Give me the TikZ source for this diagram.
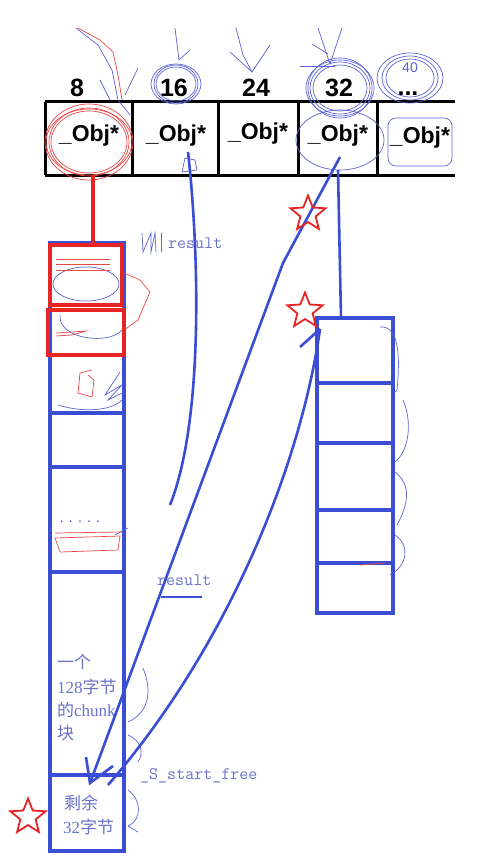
\documentclass[tikz,border=0pt]{standalone}
\usepackage{fontspec}
\usetikzlibrary{shapes.geometric}
\newfontfamily\hdr{Liberation Sans}
\newfontfamily\cjk{Noto Sans CJK SC}
\newfontfamily\lser{Liberation Serif}
\definecolor{pen}{RGB}{58,78,212}
\definecolor{ink}{RGB}{108,114,200}
\definecolor{redpen}{RGB}{232,36,36}
\definecolor{scrib}{RGB}{92,100,212}
\definecolor{redscrib}{RGB}{236,70,70}
\tikzset{
  grid/.style={line width=3pt,black},
  col/.style={line width=3.6pt,pen},
  redbox/.style={line width=3.6pt,redpen},
  link/.style={line width=2.6pt,pen},
  thinb/.style={line width=0.7pt,scrib},
  thinr/.style={line width=0.7pt,redscrib},
  hnum/.style={font=\hdr\bfseries\fontsize{25}{25}\selectfont,inner sep=0pt},
  hobj/.style={font=\hdr\bfseries\fontsize{23}{23}\selectfont,inner sep=0pt},
  lbl/.style={font=\cjk\fontsize{17}{17}\selectfont,text=ink,inner sep=0pt,anchor=west},
  code/.style={font=\ttfamily\fontsize{17.5}{17.5}\selectfont,text=ink,inner sep=0pt,anchor=west},
  redstar/.style={star,star points=5,star point ratio=2.3,draw=redpen,line width=1.8pt,minimum size=37pt,inner sep=0pt}
}
\begin{document}
\begin{tikzpicture}[x=1pt,y=-1pt]
\useasboundingbox (0,0) rectangle (477,864);
\fill[white] (0,0) rectangle (477,864);

% ---------- header table ----------
\draw[grid] (45,102) -- (455,102);
\draw[grid] (45,175) -- (455,175);
\foreach \x in {45,132,218,298,377} \draw[grid] (\x,102) -- (\x,175);

\node[hnum] (n8)  at (77,88)  {8};
\node[hnum] (n16) at (174,88) {16};
\node[hnum] (n24) at (256,88) {24};
\node[hnum] (n32) at (339,88) {32};
\node[hnum,anchor=base] (n40) at (408,96) {...};
\node[font=\hdr\fontsize{14}{14}\selectfont,text=scrib,inner sep=0pt] (h40) at (410,68) {40};

\node[hobj] (c1) at (89,136)  {\_Obj*};
\node[hobj] (c2) at (176,136) {\_Obj*};
\node[hobj] (c3) at (258,134) {\_Obj*};
\node[hobj] (c4) at (338,136) {\_Obj*};
\node[hobj] (c5) at (420,138) {\_Obj*};

% ---------- scribbles on header ----------
\foreach \r/\s in {40/34,44/38,38/31,43/33}
  \draw[thinr] (89,142) ellipse [x radius=\r pt, y radius=\s pt];
\draw[thinr] (78,28) -- (100,40) -- (113,52) -- (118,75) -- (122,100);
\draw[thinb] (76,28) -- (98,45) -- (112,70) -- (118,100) -- (130,115);
\draw[thinb] (100,80) -- (110,100); \draw[thinb] (138,68) -- (125,95);
\foreach \r/\s in {22/19,25/20,20/17}
  \draw[thinb] (176,84) ellipse [x radius=\r pt, y radius=\s pt];
\draw[thinb] (175,28) -- (179,60) -- (190,50);
\draw[thinb] (236,28) -- (243,55) -- (252,72) -- (270,45);
\draw[thinb] (230,52) -- (252,72);
\foreach \r/\s in {30/26,34/28,27/23,32/30}
  \draw[thinb] (340,88) ellipse [x radius=\r pt, y radius=\s pt];
\draw[thinb] (318,28) -- (330,64) -- (342,28);
\draw[thinb] (312,44) -- (328,54); \draw[thinb] (300,66) -- (335,66);
\draw[thinb] (340,140) ellipse [x radius=44pt, y radius=30pt];
\foreach \r/\s in {28/22,33/25,24/19}
  \draw[thinb] (410,78) ellipse [x radius=\r pt, y radius=\s pt];
\draw[thinb,rounded corners=8pt] (388,118) rectangle (452,166);
\draw[thinb] (185,158) -- (182,172) -- (197,170) -- (195,160) -- (185,158);

% ---------- left column ----------
\draw[col] (50,243) rectangle (124,851);
\foreach \y in {355,413,467} \draw[col] (50,\y) -- (124,\y);
\draw[col,line width=4.6pt] (50,572) -- (124,572);
\draw[col,line width=4.2pt] (50,775) -- (124,775);
\node[font=\hdr\fontsize{14}{14}\selectfont,text=pen,inner sep=0pt] (dots) at (80,522) {. . . . .};

% scribbles in the left column
\draw[thinb] (86,284) ellipse [x radius=33pt, y radius=17pt];
\foreach \y in {259,264,270} \draw[thinr] (56,\y) -- (110,\y);
\draw[thinr] (122,272) -- (140,280) -- (150,292) -- (138,320) -- (124,330);
\draw[thinb] (60,315) .. controls (58,340) and (110,345) .. (122,330);
\draw[thinr] (56,333) -- (86,331) -- (72,335) -- (56,336);
\draw[thinr] (92,370) -- (80,373) -- (78,393) -- (92,397) -- (94,380) -- (88,375);
\draw[thinb] (120,372) -- (105,395) -- (122,385) -- (108,400) -- (124,392);
\draw[thinb] (58,405) .. controls (80,412) and (110,412) .. (122,400);
\draw[thinr] (55,538) -- (120,536) -- (118,550) -- (60,552) -- cycle;
\draw[thinr] (55,533) -- (123,532);
\draw[thinb] (115,535) -- (128,528);

\node[lbl] (t1) at (57,662) {一个};
\node[lbl] (t2) at (57,687) {{\lser 128}字节};
\node[lbl] (t3) at (57,710) {的{\lser chunk}};
\node[lbl] (t4) at (57,733) {块};
\node[lbl] (t5) at (64,803) {剩余};
\node[lbl] (t6) at (63,827) {{\lser 32}字节};
\draw[col,line width=3.2pt] (124,660) -- (124,760);

% curly scribbles on the right of the bottom block
\draw[thinb] (143,668) .. controls (152,690) and (150,712) .. (128,722);
\draw[thinb] (128,735) .. controls (140,740) and (145,752) .. (138,762);
\draw[thinb] (128,790) .. controls (142,800) and (142,820) .. (128,826);
\draw[thinb] (128,826) -- (138,832);

% ---------- right column ----------
\draw[col] (317,318) rectangle (393,613);
\foreach \y in {383,443,510,563} \draw[col] (317,\y) -- (393,\y);
\draw[thinb] (380,327) .. controls (400,325) and (400,360) .. (397,390) -- (395,392);
\draw[thinb] (403,400) .. controls (412,420) and (410,450) .. (395,462);
\draw[thinb] (395,472) .. controls (412,485) and (408,505) .. (397,525);
\draw[thinb] (395,535) .. controls (410,545) and (408,565) .. (390,575);
\draw[thinr] (360,565) -- (385,563);

% ---------- connectors ----------
\coordinate (r0) at (93,175);
\coordinate (r1) at (93,243);
\draw[redbox] (r0) -- (r1);
\draw[redbox] (50,245) rectangle (122,305);
\draw[redbox] (48,310) rectangle (124,355);

% from 16 slot: curved line ending in the air
\coordinate (a0) at (188,152);
\coordinate (a1) at (170,505);
\draw[link] (a0) .. controls (199,250) and (204,420) .. (a1);

% from 32 slot to right column
\coordinate (b0) at (338,170);
\coordinate (b1) at (341,318);
\draw[link] (b0) -- (b1);

% from 32 slot down to _S_start_free
\coordinate (d0) at (340,157);
\coordinate (d1) at (283,263);
\coordinate (d2) at (90,783);
\coordinate (d3) at (86,757);
\coordinate (d4) at (113,766);
\draw[link] (d0) -- (d1) -- (d2);
\draw[link] (d3) -- (d2) -- (d4);

% from remaining 32 bytes up to the right column
\coordinate (e0) at (108,785);
\coordinate (e1) at (320,329);
\coordinate (e2) at (300,347);
\draw[link] (e0) .. controls (225,650) and (300,470) .. (e1);
\draw[link] (e2) -- (e1);

% labels
\node[code] (res1) at (168,243) {result};
\draw[thinb] (142,233) -- (143,252) -- (151,233) -- (151,252) -- (155,233) -- (156,252);
\draw[thinb] (161,233) -- (161,252);
\node[code] (res2) at (157,580) {result};
\coordinate (u0) at (161,597);
\coordinate (u1) at (202,597);
\draw[link,line width=2pt] (u0) -- (u1);
\node[code] (sfree) at (140,776) {\_S\_start\_free};

% stars
\node[redstar] (s1) at (308,214) {};
\node[redstar] (s2) at (305,311) {};
\node[redstar] (s3) at (28,817) {};
\end{tikzpicture}
\end{document}
